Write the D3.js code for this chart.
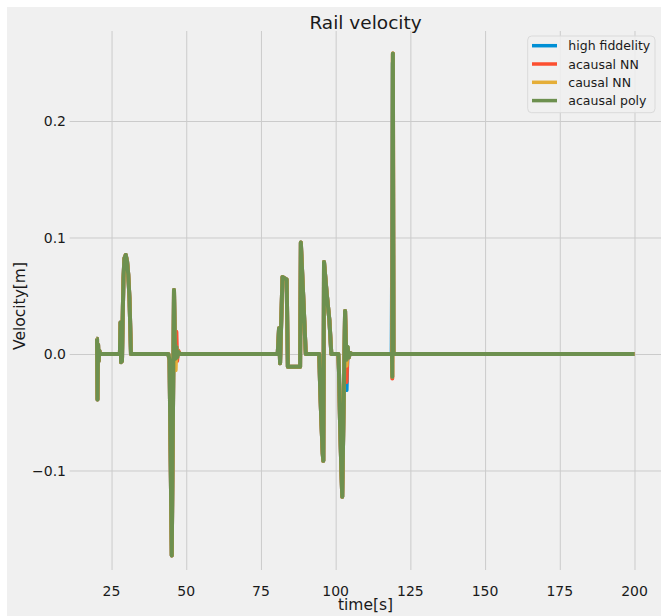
<!DOCTYPE html>
<html>
<head>
<meta charset="utf-8">
<script src="https://cdn.jsdelivr.net/npm/d3@7"></script>
<style>
    body { margin: 0; background: #ffffff; }
    text { font-family: "DejaVu Sans", sans-serif; fill: #1a1a1a; }
</style>
</head>
<body>
<div id="chart"></div>
<script>
// Sample times [s], shared by all four series
const time = [
    20.0, 20.15, 20.3, 20.5, 20.7, 20.9, 21.2, 27.8, 28.0, 28.2,
    28.5, 28.8, 29.0, 29.3, 29.75, 30.2, 30.6, 31.0, 31.3, 31.5,
    44.0, 44.4, 45.15, 45.9, 46.25, 46.45, 46.7, 46.95, 47.3, 47.9,
    80.6, 81.05, 81.4, 82.2, 83.6, 84.0, 88.1, 88.35, 89.0, 89.5,
    90.0, 94.5, 94.8, 95.2, 95.65, 95.87, 96.1, 97.0, 97.9, 98.55,
    100.9, 101.1, 101.45, 101.9, 102.2, 103.15, 103.4, 103.65, 104.0, 104.4,
    104.8, 105.4, 118.6, 118.75, 118.85, 118.95, 119.1, 119.15, 119.35, 200.0
];

const highFidelity = [
    0.013, 0.013, -0.039, 0.008, -0.006, 0.003, 0, 0, 0.027, -0.007,
    -0.006, 0.040, 0.065, 0.082, 0.085, 0.0795, 0.068, 0.048, 0.020, 0,
    0, -0.005, -0.173, 0.055, 0.004, -0.004, 0.006, -0.003, 0.002, 0,
    0, 0.022, -0.008, 0.066, 0.064, -0.011, -0.011, 0.0956, 0.058, 0.029,
    0, 0, -0.028, -0.057, -0.085, -0.0916, 0.079, 0.052, 0.029, 0,
    0, -0.014, -0.057, -0.0996, -0.1225, 0.037, 0.010, -0.031, 0.006, -0.003,
    0.001, 0, 0, 0, 0.060, 0.135, 0.250, 0.200, 0, 0
];

const acausalNN = [
    0.013, 0.013, -0.039, 0.008, -0.006, 0.003, 0, 0, 0.027, -0.007,
    -0.006, 0.040, 0.065, 0.082, 0.085, 0.0795, 0.068, 0.048, 0.020, 0,
    0, -0.005, -0.173, 0.055, 0.004, -0.005, 0.019, -0.006, 0.003, 0,
    0, 0.022, -0.008, 0.066, 0.064, -0.011, -0.011, 0.0956, 0.058, 0.029,
    0, 0, -0.028, -0.057, -0.085, -0.0916, 0.079, 0.052, 0.029, 0,
    0, -0.014, -0.057, -0.0996, -0.1225, 0.037, 0.016, -0.024, 0.005, -0.003,
    0.001, 0, 0, 0, 0, -0.021, 0.185, 0.258, 0, 0
];

const causalNN = [
    0.013, 0.013, -0.039, 0.008, -0.006, 0.003, 0, 0, 0.027, -0.007,
    -0.006, 0.040, 0.065, 0.082, 0.085, 0.0795, 0.068, 0.048, 0.020, 0,
    0, -0.005, -0.173, 0.055, 0.002, -0.014, 0.006, -0.003, 0.002, 0,
    0, 0.022, -0.008, 0.066, 0.064, -0.011, -0.011, 0.0956, 0.058, 0.029,
    0, 0, -0.028, -0.057, -0.085, -0.0916, 0.079, 0.052, 0.029, 0,
    0, -0.014, -0.057, -0.0996, -0.1225, 0.037, 0.012, -0.010, 0.006, -0.003,
    0.001, 0, 0, 0, 0, -0.0195, 0.189, 0.258, 0, 0
];

const acausalPoly = [
    0.013, 0.013, -0.039, 0.008, -0.006, 0.003, 0, 0, 0.027, -0.007,
    -0.006, 0.040, 0.065, 0.082, 0.085, 0.0795, 0.068, 0.048, 0.020, 0,
    0, -0.005, -0.173, 0.055, 0.004, -0.004, 0.006, -0.003, 0.002, 0,
    0, 0.022, -0.008, 0.066, 0.064, -0.011, -0.011, 0.0956, 0.058, 0.029,
    0, 0, -0.028, -0.057, -0.085, -0.0916, 0.079, 0.052, 0.029, 0,
    0, -0.014, -0.057, -0.0996, -0.1225, 0.037, 0.012, -0.005, 0.006, -0.003,
    0.001, 0, 0, 0, 0, -0.0195, 0.189, 0.258, 0, 0
];

const seriesNames = ["high fiddelity", "acausal NN", "causal NN", "acausal poly"];
const seriesColors = ["#008fd5", "#fc4f30", "#e5ae38", "#6d904f"];
const xTicks = [25, 50, 75, 100, 125, 150, 175, 200];
const yTicks = [-0.1, 0.0, 0.1, 0.2];

function railVelocityPlot(graphID) {
    let W = 661, H = 616;
    let plot = {left: 69.7, right: 661.4, top: 31, bottom: 570};

    let svg = d3.select(graphID).append("svg")
        .attr("width", W)
        .attr("height", H);

    // figure background (white strip on top/left like the saved figure)
    svg.append("rect")
        .attr("x", 0).attr("y", 0)
        .attr("width", W).attr("height", H)
        .attr("fill", "#ffffff");
    svg.append("rect")
        .attr("x", 7).attr("y", 7)
        .attr("width", W - 7).attr("height", H - 7)
        .attr("fill", "#f0f0f0");

    let x = d3.scaleLinear()
        .domain([11, 209])
        .range([plot.left, plot.right]);
    let y = d3.scaleLinear()
        .domain([-0.18541, 0.27725])
        .range([plot.bottom, plot.top]);

    // grid lines
    svg.append("g")
        .attr("transform", "translate(0," + plot.bottom + ")")
        .call(d3.axisBottom(x)
            .tickValues(xTicks)
            .tickSize(-(plot.bottom - plot.top))
            .tickFormat(""))
        .call(g => g.select(".domain").remove())
        .call(g => g.selectAll("line").attr("stroke", "#cbcbcb").attr("stroke-width", 1));

    svg.append("g")
        .attr("transform", "translate(" + plot.left + ",0)")
        .call(d3.axisLeft(y)
            .tickValues(yTicks)
            .tickSize(-(plot.right - plot.left))
            .tickFormat(""))
        .call(g => g.select(".domain").remove())
        .call(g => g.selectAll("line").attr("stroke", "#cbcbcb").attr("stroke-width", 1));

    // tick labels
    svg.append("g")
        .selectAll("text")
        .data(xTicks)
        .enter().append("text")
        .attr("x", d => x(d))
        .attr("y", 595.5)
        .attr("text-anchor", "middle")
        .attr("font-size", 14)
        .text(d => d);

    let fmt = d3.format(".1f");
    svg.append("g")
        .selectAll("text")
        .data(yTicks)
        .enter().append("text")
        .attr("x", 66)
        .attr("y", d => y(d) + 5.2)
        .attr("text-anchor", "end")
        .attr("font-size", 14)
        .text(d => fmt(d).replace("-", "\u2212"));

    // the four series, green drawn last on top
    let series = [highFidelity, acausalNN, causalNN, acausalPoly];
    let line = d3.line()
        .x(d => x(d[0]))
        .y(d => y(d[1]));

    series.forEach(function (vals, i) {
        let pts = time.map((t, j) => [t, vals[j]]);
        svg.append("path")
            .datum(pts)
            .attr("fill", "none")
            .attr("stroke", seriesColors[i])
            .attr("stroke-width", 4)
            .attr("stroke-linejoin", "round")
            .attr("d", line);
    });

    // title and axis labels
    svg.append("text")
        .attr("x", (plot.left + plot.right) / 2)
        .attr("y", 29)
        .attr("text-anchor", "middle")
        .attr("font-size", 18.5)
        .text("Rail velocity");

    svg.append("text")
        .attr("x", (plot.left + plot.right) / 2)
        .attr("y", 610)
        .attr("text-anchor", "middle")
        .attr("font-size", 15.5)
        .text("time[s]");

    svg.append("text")
        .attr("transform", "translate(25," + 306 + ") rotate(-90)")
        .attr("text-anchor", "middle")
        .attr("font-size", 15.5)
        .text("Velocity[m]");

    // legend
    let legend = svg.append("g");
    legend.append("rect")
        .attr("x", 527.7).attr("y", 36)
        .attr("width", 127.3).attr("height", 76.7)
        .attr("rx", 4)
        .attr("fill", "#f0f0f0")
        .attr("fill-opacity", 0.85)
        .attr("stroke", "#dadada")
        .attr("stroke-width", 1);

    seriesNames.forEach(function (name, i) {
        let ly = 45.7 + i * 18.3;
        legend.append("line")
            .attr("x1", 532).attr("x2", 557)
            .attr("y1", ly).attr("y2", ly)
            .attr("stroke", seriesColors[i])
            .attr("stroke-width", 3.5);
        legend.append("text")
            .attr("x", 568.3)
            .attr("y", ly + 4.5)
            .attr("font-size", 12.5)
            .text(name);
    });
}

railVelocityPlot("#chart");
</script>
</body>
</html>
